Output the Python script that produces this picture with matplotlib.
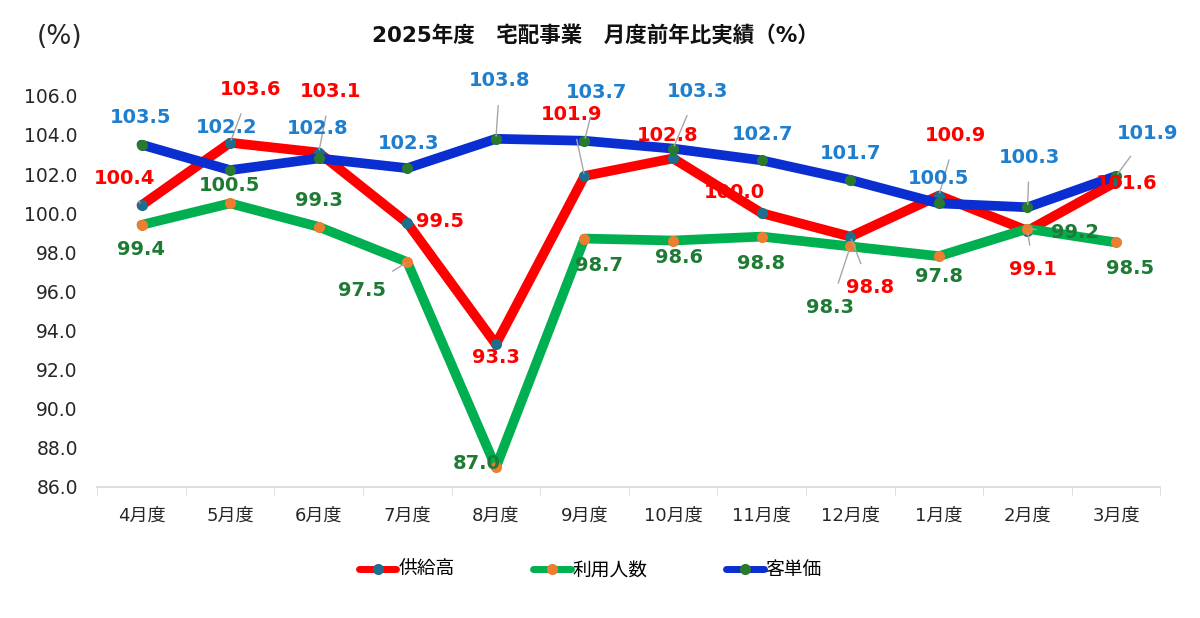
import matplotlib.pyplot as plt

plt.rcParams['font.family'] = ['DejaVu Sans', 'Noto Sans CJK JP']

# data
months = ['4月度', '5月度', '6月度', '7月度', '8月度', '9月度',
          '10月度', '11月度', '12月度', '1月度', '2月度', '3月度']
supply = [100.4, 103.6, 103.1, 99.5, 93.3, 101.9, 102.8, 100.0, 98.8, 100.9, 99.1, 101.6]
users = [99.4, 100.5, 99.3, 97.5, 87.0, 98.7, 98.6, 98.8, 98.3, 97.8, 99.2, 98.5]
unit_price = [103.5, 102.2, 102.8, 102.3, 103.8, 103.7, 103.3, 102.7, 101.7, 100.5, 100.3, 101.9]
yticks = [86.0, 88.0, 90.0, 92.0, 94.0, 96.0, 98.0, 100.0, 102.0, 104.0, 106.0]

# label offsets in image pixels (dx right, dy down) and whether a leader line is drawn
supply_off = [(-17, -27), (20, -53), (12, -61), (33, -1), (0, 13), (-13, -61),
              (-5, -23), (-27, -21), (20, 51), (17, -60), (6, 39), (11, 2)]
supply_lead = [1, 1, 1, 0, 0, 1, 0, 0, 1, 1, 1, 0]
users_off = [(-1, 25), (-1, -18), (0, -26), (-45, 28), (-19, -4), (15, 27),
             (6, 17), (-1, 27), (-20, 61), (0, 20), (48, 4), (14, 26)]
users_lead = [0, 0, 0, 1, 0, 0, 0, 0, 1, 0, 1, 0]
price_off = [(-1, -27), (-3, -43), (-1, -30), (1, -25), (4, -58), (12, -48),
             (24, -57), (1, -26), (0, -26), (0, -25), (2, -50), (31, -42)]
price_lead = [0, 0, 0, 0, 1, 1, 1, 0, 0, 0, 1, 1]

fig = plt.figure(figsize=(12, 6.18), dpi=100)
ax = fig.add_axes([0.081, 0.212, 0.886, 0.633])

x = list(range(len(months)))
series = [
    ('供給高', supply, '#FF0000', '#1F6E8C', '#FF0000', supply_off, supply_lead),
    ('利用人数', users, '#00B050', '#ED7D31', '#1E7B34', users_off, users_lead),
    ('客単価', unit_price, '#0A2ED0', '#2A7A2E', '#1F7FCF', price_off, price_lead),
]

for name, vals, lc, mc, tc, offs, leads in series:
    ax.plot(x, vals, color=lc, lw=7, marker='o', ms=7, mfc=mc, mec=mc,
            label=name, solid_capstyle='round', solid_joinstyle='round',
            clip_on=False, zorder=3)

for name, vals, lc, mc, tc, offs, leads in series:
    for i, v in enumerate(vals):
        dx, dy = offs[i]
        arrow = dict(arrowstyle='-', color='#A6A6A6', lw=1.0,
                     shrinkA=9, shrinkB=2) if leads[i] else None
        ax.annotate(f'{v:.1f}', (i, v), xytext=(dx, -dy),
                    textcoords='offset pixels', ha='center', va='center',
                    fontsize=14, fontweight='bold', color=tc,
                    arrowprops=arrow, annotation_clip=False, zorder=5)

ax.set_xlim(-0.5, len(months) - 0.5)
ax.set_ylim(86, 106)
ax.set_yticks(yticks)
ax.set_yticklabels([f'{t:.1f}' for t in yticks], fontsize=13.5, color='#262626')
ax.tick_params(axis='y', length=0, pad=14)

ax.set_xticks(x)
ax.set_xticklabels(months, fontsize=13, color='#262626')
ax.set_xticks([i - 0.5 for i in range(len(months) + 1)], minor=True)
ax.tick_params(axis='x', which='major', length=0, pad=14)
ax.tick_params(axis='x', which='minor', length=6, color='#D9D9D9')

for s in ['top', 'right', 'left']:
    ax.spines[s].set_visible(False)
ax.spines['bottom'].set_color('#D9D9D9')
ax.spines['bottom'].set_linewidth(1.2)

fig.text(0.05, 0.94, '(%)', fontsize=19, color='#262626', ha='center', va='center')
fig.text(0.496, 0.943, '2025年度　宅配事業　月度前年比実績（%）', fontsize=15.5,
         fontweight='bold', ha='center', va='center', color='#111111')

leg = fig.legend(loc='center', bbox_to_anchor=(0.492, 0.078), ncol=3, frameon=False,
                 fontsize=13.5, handlelength=2.0, handletextpad=0.1, columnspacing=4.2)
for h in leg.get_lines():
    h.set_linewidth(5)

fig.savefig('out.png', dpi=100, facecolor='white')
